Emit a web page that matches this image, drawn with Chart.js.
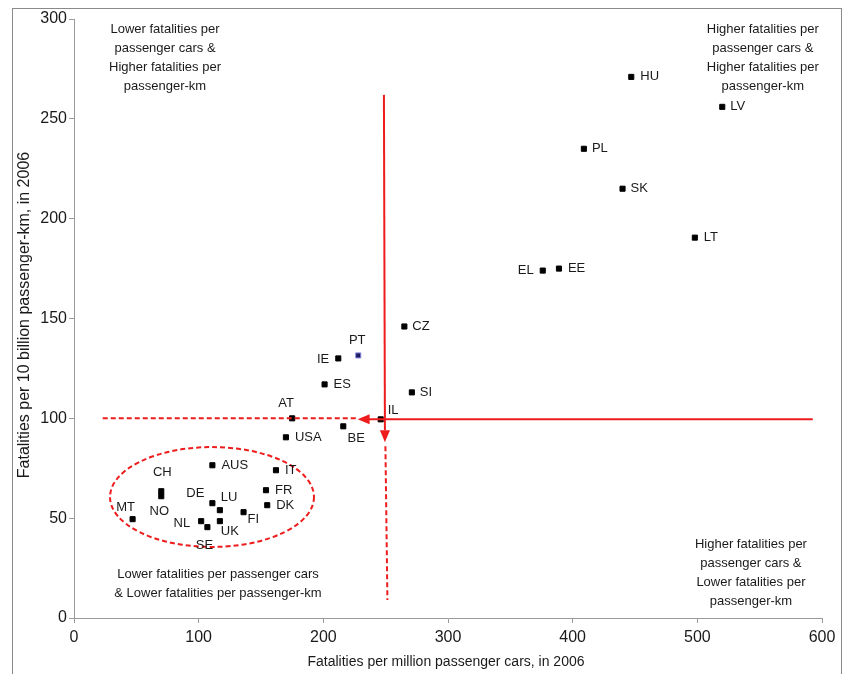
<!DOCTYPE html>
<html>
<head>
<meta charset="utf-8">
<script src="https://cdn.jsdelivr.net/npm/chart.js@4/dist/chart.umd.min.js"></script>
<style>
html, body { margin: 0; padding: 0; background: #fff; }
</style>
</head>
<body>
<canvas id="fatalChart" width="846" height="674"></canvas>
<script>
// country codes and the two rates
var countries = ["HU", "LV", "PL", "SK", "LT", "EL", "EE", "CZ", "PT", "IE", "ES", "SI", "AT", "IL", "BE", "USA",
                 "AUS", "IT", "CH", "NO", "FR", "DE", "DK", "LU", "FI", "MT", "NL", "UK", "SE"];
var perMillionCars = [447, 520, 409, 440, 498, 376, 389, 265, 228, 212, 201, 271, 175, 246, 216, 170,
                      111, 162, 70, 70, 154, 111, 155, 117, 136, 47, 102, 117, 107];
var perBillionKm = [271, 256, 235, 215, 190.5, 174, 175, 146, 131.5, 130, 117, 113, 100, 99.5, 96, 90.5,
                    76.5, 74, 63.5, 61, 64, 57.5, 56.5, 54, 53, 49.5, 48.5, 48.5, 45.5];

var xTicks = [0, 100, 200, 300, 400, 500, 600];
var yTicks = [0, 50, 100, 150, 200, 250, 300];

// reference lines (averages) and the ellipse round the low group
var avgCars = 248.6;
var avgKm = 99.6;
var groupCentre = [110.7, 60.6];
var groupRadius = [81.8, 25];

// where each code sits next to its marker: [dx, dy, align]
var labelPos = {
  HU: [9, 0, 'left'], LV: [8, 0, 'left'], PL: [8, 0, 'left'], SK: [8, 0, 'left'], LT: [9, 0, 'left'],
  EL: [-9, 0, 'right'], EE: [9, 0, 'left'], CZ: [8, 0, 'left'], PT: [-1, -15, 'center'], IE: [-9, 1, 'right'],
  ES: [9, 0, 'left'], SI: [8, 0, 'left'], AT: [-6, -15, 'center'], IL: [7, -9, 'left'], BE: [13, 12, 'center'],
  USA: [9, 0, 'left'], AUS: [9, 0, 'left'], IT: [9, 0, 'left'], CH: [1, -19, 'center'], NO: [-2, 15, 'center'],
  FR: [9, 0, 'left'], DE: [-17, -10, 'center'], DK: [9, 0, 'left'], LU: [1, -13, 'left'], FI: [4, 7, 'left'],
  MT: [-7, -12, 'center'], NL: [-11, 2, 'right'], UK: [1, 10, 'left'], SE: [-3, 18, 'center']
};

var quadrantNotes = [
  { at: [73, 295], lines: ["Lower fatalities per", "passenger cars &", "Higher fatalities per", "passenger-km"] },
  { at: [552.5, 295], lines: ["Higher fatalities per", "passenger cars &", "Higher fatalities per", "passenger-km"] },
  { at: [115.5, 22], lines: ["Lower fatalities per passenger cars", "& Lower fatalities per passenger-km"] },
  { at: [543, 37], lines: ["Higher fatalities per", "passenger cars &", "Lower fatalities per", "passenger-km"] }
];

var points = [];
for (var i = 0; i < countries.length; i++) {
  points.push({ x: perMillionCars[i], y: perBillionKm[i] });
}
var fills = countries.map(function(c) { return c === "PT" ? "#1c1c60" : "#000"; });
var borders = countries.map(function(c) { return c === "PT" ? "#8c8ce0" : "#000"; });

var FONT = "'Liberation Sans', Arial, sans-serif";
var RED = "#ee1c1c";

function arrowHead(ctx, tx, ty, dirX, dirY) {
  var len = 12, half = 5;
  var bx = tx - dirX * len, by = ty - dirY * len;
  ctx.beginPath();
  ctx.moveTo(tx, ty);
  ctx.lineTo(bx + dirY * half, by - dirX * half);
  ctx.lineTo(bx - dirY * half, by + dirX * half);
  ctx.closePath();
  ctx.fill();
}

var decorations = {
  id: 'decorations',
  beforeDraw: function(chart) {
    var ctx = chart.ctx;
    ctx.save();
    ctx.fillStyle = '#fff';
    ctx.fillRect(0, 0, chart.width, chart.height);
    ctx.strokeStyle = '#8a8a8a';
    ctx.lineWidth = 1;
    ctx.strokeRect(12.5, 8.5, 829, 700);
    ctx.restore();
  },
  afterDatasetsDraw: function(chart) {
    var ctx = chart.ctx;
    var xs = chart.scales.x, ys = chart.scales.y;
    ctx.save();

    // red lines
    ctx.strokeStyle = RED;
    ctx.fillStyle = RED;
    ctx.lineWidth = 2;
    var vx = xs.getPixelForValue(avgCars);
    var hy = ys.getPixelForValue(avgKm);

    ctx.beginPath();
    ctx.moveTo(vx, ys.getPixelForValue(262));
    ctx.lineTo(vx + 1, ys.getPixelForValue(94));
    ctx.stroke();
    arrowHead(ctx, vx + 1, ys.getPixelForValue(88), 0, 1);

    ctx.beginPath();
    ctx.moveTo(xs.getPixelForValue(592.6), hy);
    ctx.lineTo(xs.getPixelForValue(233), hy);
    ctx.stroke();
    arrowHead(ctx, xs.getPixelForValue(227.5), hy, -1, 0);

    ctx.setLineDash([5, 3]);
    ctx.beginPath();
    ctx.moveTo(vx + 1.5, ys.getPixelForValue(86));
    ctx.lineTo(vx + 3.5, ys.getPixelForValue(9));
    ctx.stroke();
    ctx.beginPath();
    ctx.moveTo(xs.getPixelForValue(226), hy - 1);
    ctx.lineTo(xs.getPixelForValue(21), hy - 1);
    ctx.stroke();

    ctx.beginPath();
    var cx = xs.getPixelForValue(groupCentre[0]), cy = ys.getPixelForValue(groupCentre[1]);
    var rx = xs.getPixelForValue(groupCentre[0] + groupRadius[0]) - cx;
    var ry = cy - ys.getPixelForValue(groupCentre[1] + groupRadius[1]);
    ctx.ellipse(cx, cy, rx, ry, 0, 0, Math.PI * 2);
    ctx.stroke();
    ctx.setLineDash([]);

    // country codes
    ctx.fillStyle = '#1a1a1a';
    ctx.font = '13px ' + FONT;
    ctx.textBaseline = 'middle';
    for (var i = 0; i < countries.length; i++) {
      var p = labelPos[countries[i]];
      ctx.textAlign = p[2];
      ctx.fillText(countries[i], xs.getPixelForValue(perMillionCars[i]) + p[0], ys.getPixelForValue(perBillionKm[i]) + p[1]);
    }

    // quadrant notes
    ctx.textAlign = 'center';
    quadrantNotes.forEach(function(n) {
      var nx = xs.getPixelForValue(n.at[0]), ny = ys.getPixelForValue(n.at[1]);
      n.lines.forEach(function(line, k) {
        ctx.fillText(line, nx, ny + k * 19);
      });
    });

    // axis titles
    ctx.font = '14px ' + FONT;
    ctx.fillText("Fatalities per million passenger cars, in 2006", 446, 662);
    ctx.font = '16px ' + FONT;
    ctx.translate(25, 315);
    ctx.rotate(-Math.PI / 2);
    ctx.fillText("Fatalities per 10 billion passenger-km, in 2006", 0, 0);
    ctx.restore();
  }
};

var ctx = document.getElementById("fatalChart");
var myChart = new Chart(ctx, {
  type: 'scatter',
  data: {
    datasets: [{
      label: 'Fatalities',
      data: points,
      pointStyle: 'rect',
      pointRadius: 3.6,
      pointHoverRadius: 3.6,
      pointBackgroundColor: fills,
      pointBorderColor: borders,
      pointBorderWidth: 1
    }]
  },
  options: {
    responsive: false,
    animation: false,
    devicePixelRatio: 1,
    layout: { padding: { top: 19, right: 24, left: 0, bottom: 0 } },
    plugins: { legend: { display: false }, tooltip: { enabled: false } },
    scales: {
      x: {
        type: 'linear', min: 0, max: 600,
        afterBuildTicks: function(scale) { scale.ticks = xTicks.map(function(v) { return { value: v }; }); },
        afterFit: function(scale) { scale.height = 56; },
        ticks: { color: '#1a1a1a', font: { size: 16, family: FONT }, padding: 5, maxRotation: 0 },
        grid: { drawOnChartArea: false, tickLength: 5, color: '#9a9a9a' },
        border: { color: '#9a9a9a' }
      },
      y: {
        type: 'linear', min: 0, max: 300,
        afterBuildTicks: function(scale) { scale.ticks = yTicks.map(function(v) { return { value: v }; }); },
        afterFit: function(scale) { scale.width = 74; },
        ticks: { color: '#1a1a1a', font: { size: 16, family: FONT }, padding: 2 },
        grid: { drawOnChartArea: false, tickLength: 5, color: '#9a9a9a' },
        border: { color: '#9a9a9a' }
      }
    }
  },
  plugins: [decorations]
});
</script>
</body>
</html>
